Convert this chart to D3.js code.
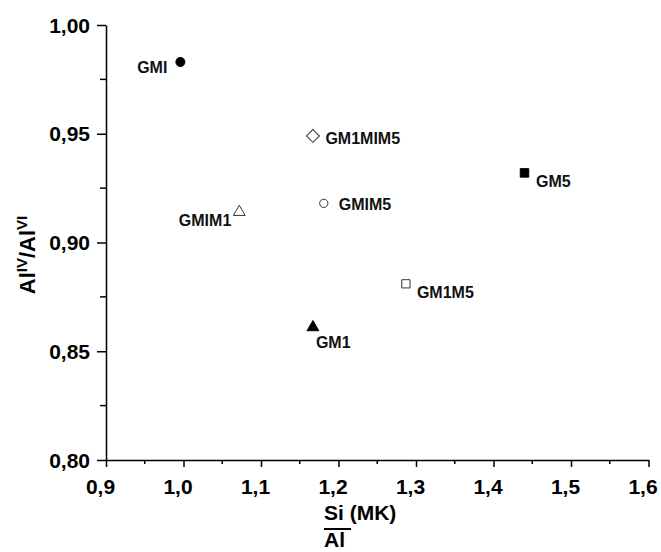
<!DOCTYPE html>
<html><head><meta charset="utf-8">
<script src="https://cdn.jsdelivr.net/npm/d3@7"></script>
<style>
html,body{margin:0;padding:0;background:#fff;}
svg{display:block;font-family:"Liberation Sans",Arial,sans-serif;font-weight:bold;}
</style></head>
<body>
<script>
// ---- data ----
const samples = ["GMI","GM1MIM5","GM5","GMIM5","GMIM1","GM1M5","GM1"];
const siAl    = [0.996, 1.167, 1.440, 1.181, 1.072, 1.287, 1.167];
const alRatio = [0.983, 0.949, 0.932, 0.918, 0.914, 0.881, 0.861];
const xTicks = [0.9,1.0,1.1,1.2,1.3,1.4,1.5,1.6];
const yTicks = [0.80,0.85,0.90,0.95,1.00];
const xMinor = [0.95,1.05,1.15,1.25,1.35,1.45,1.55];
const yMinor = [0.825,0.875,0.925,0.975];

// ---- styles ----
const symbols = {
  GMI:{type:d3.symbolCircle,size:64,fill:"#000",rot:0},
  GM1MIM5:{type:d3.symbolSquare,size:84,fill:"#fff",rot:45},
  GM5:{type:d3.symbolSquare,size:72,fill:"#000",rot:0},
  GMIM5:{type:d3.symbolCircle,size:54,fill:"#fff",rot:0},
  GMIM1:{type:d3.symbolTriangle,size:60,fill:"#fff",rot:0},
  GM1M5:{type:d3.symbolSquare,size:68,fill:"#fff",rot:0},
  GM1:{type:d3.symbolTriangle,size:60,fill:"#000",rot:0}
};
const labelPos = {
  GMI:{dx:-13,dy:11.5,anchor:"end"},
  GM1MIM5:{dx:12.5,dy:8.5,anchor:"start"},
  GM5:{dx:11.5,dy:14,anchor:"start"},
  GMIM5:{dx:15,dy:6.5,anchor:"start"},
  GMIM1:{dx:-8,dy:14,anchor:"end"},
  GM1M5:{dx:11,dy:14.5,anchor:"start"},
  GM1:{dx:3,dy:21,anchor:"start"}
};

const W=661,H=552;
const svg=d3.select("body").append("svg").attr("width",W).attr("height",H);
const x=d3.scaleLinear().domain([0.9,1.6]).range([106,648.5]);
const y=d3.scaleLinear().domain([0.8,1.0]).range([460,25]);

const fmt2=d=>d3.format(".2f")(d).replace(".",",");
const fmt1=d=>d3.format(".1f")(d).replace(".",",");

// X axis
const gx=svg.append("g").attr("transform","translate(0,460)");
gx.call(d3.axisBottom(x).tickValues(xTicks).tickFormat(fmt1).tickSize(7).tickSizeOuter(0).tickPadding(11));
gx.append("g").selectAll("line").data(xMinor).join("line")
  .attr("x1",d=>x(d)).attr("x2",d=>x(d)).attr("y1",0).attr("y2",4).attr("stroke","#000").attr("stroke-width",1.5);
// Y axis
const gy=svg.append("g").attr("transform","translate(106,0)");
gy.call(d3.axisLeft(y).tickValues(yTicks).tickFormat(fmt2).tickSize(9).tickSizeOuter(0).tickPadding(7));
gy.append("g").selectAll("line").data(yMinor).join("line")
  .attr("y1",d=>y(d)).attr("y2",d=>y(d)).attr("x1",0).attr("x2",-6).attr("stroke","#000").attr("stroke-width",1.5);

svg.selectAll(".domain").attr("stroke","#000").attr("stroke-width",1.5);
svg.selectAll(".tick line").attr("stroke","#000").attr("stroke-width",1.5);
svg.selectAll(".tick text").attr("font-size",21).attr("font-weight","bold").attr("fill","#000")
  .attr("font-family","'Liberation Sans',Arial,sans-serif");
gx.selectAll(".tick text").attr("dy","0.75em").attr("dx",-6);
gy.selectAll(".tick text").attr("dy","0.34em");

// points
const pts=svg.append("g");
samples.forEach((s,i)=>{
  const st=symbols[s];
  pts.append("path")
    .attr("d",d3.symbol().type(st.type).size(st.size)())
    .attr("transform",`translate(${x(siAl[i])},${y(alRatio[i])}) rotate(${st.rot})`)
    .attr("fill",st.fill).attr("stroke",st.fill==="#000"?"#000":"#333").attr("stroke-width",1);
  const lp=labelPos[s];
  pts.append("text").attr("x",x(siAl[i])+lp.dx).attr("y",y(alRatio[i])+lp.dy)
    .attr("text-anchor",lp.anchor).attr("font-size",16).attr("fill","#111").text(s);
});

// Axis titles
const xt=svg.append("g");
xt.append("text").attr("x",324).attr("y",520).attr("font-size",21).attr("fill","#000").text("Si (MK)");
xt.append("line").attr("x1",324).attr("x2",351).attr("y1",529).attr("y2",529).attr("stroke","#000").attr("stroke-width",2);
xt.append("text").attr("x",324).attr("y",547).attr("font-size",21).attr("fill","#000").text("Al");

const yt=svg.append("text").attr("transform","translate(35,255) rotate(-90)")
  .attr("text-anchor","middle").attr("font-size",22).attr("fill","#000");
yt.append("tspan").text("Al");
yt.append("tspan").attr("font-size",15).attr("dy",-8).text("IV");
yt.append("tspan").attr("dy",8).text("/Al");
yt.append("tspan").attr("font-size",15).attr("dy",-8).text("VI");
</script>
</body></html>
